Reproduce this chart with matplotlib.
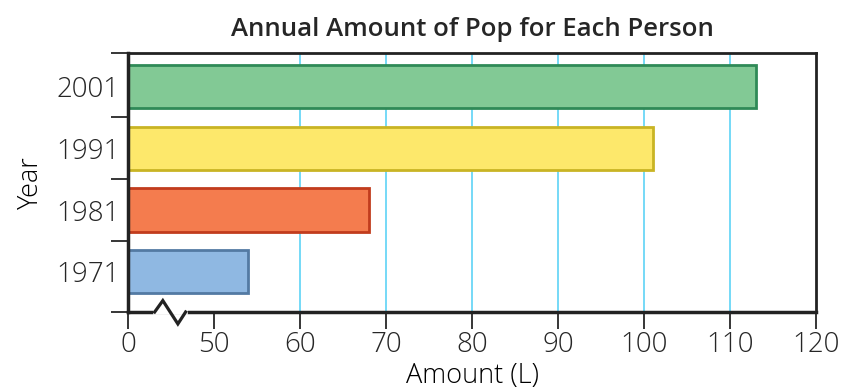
import matplotlib
matplotlib.use("Agg")
import matplotlib.pyplot as plt
import matplotlib.transforms as mtransforms

#### data
years = ["1971", "1981", "1991", "2001"]
amounts = [54, 68, 101, 113]
fills = ["#8fb8e2", "#f47c4e", "#fde86b", "#82c995"]
edges = ["#537aa3", "#c13c1d", "#c9b424", "#2f8a57"]
xticks = [0, 50, 60, 70, 80, 90, 100, 110, 120]

# the axis is broken between 0 and 50: 0 is drawn where 40 would be
BREAK = 40

def to_axis(v):
    return BREAK if v == 0 else v

plt.rcParams['font.family'] = ['Open Sans', 'DejaVu Sans']
plt.rcParams['text.color'] = '#262626'
plt.rcParams['xtick.color'] = '#262626'
plt.rcParams['ytick.color'] = '#262626'

fig = plt.figure(figsize=(8.47, 3.9), dpi=100)
ax = fig.add_axes([128/847, 1-312/390, (816-128)/847, (312-53)/390])

ypos = list(range(len(years)))
ax.barh(ypos, [a - BREAK for a in amounts], left=BREAK, height=0.7,
        color=fills, edgecolor=edges, linewidth=2, zorder=3)

# light blue grid
for t in xticks[2:-1]:
    ax.axvline(t, color='#4fcff5', lw=1.1, zorder=1)

ax.set_xlim(BREAK, 120)
ax.set_ylim(-0.65, 3.54)
ax.set_xticks([to_axis(t) for t in xticks])
ax.set_xticklabels([str(t) for t in xticks], fontsize=20, fontweight='light')
ax.set_yticks(ypos)
ax.set_yticklabels(years, fontsize=20, fontweight='light')
ax.tick_params(axis='y', which='major', length=0, pad=6)
ax.set_yticks([-0.65, 0.5, 1.5, 2.5, 3.54], minor=True)
ax.tick_params(axis='y', which='minor', length=12, width=1.3, color='#262626')
ax.tick_params(axis='x', length=12, width=1.3, pad=2, direction='out')

for s in ax.spines.values():
    s.set_linewidth(2.5)
    s.set_color('#222222')
    s.set_zorder(4)
ax.spines['right'].set_linewidth(2)
ax.spines['top'].set_linewidth(2)

# zigzag for the axis break
tr = mtransforms.blended_transform_factory(ax.transData, ax.transAxes)
ax.plot([43.2, 46.6], [0, 0], color='white', lw=4, transform=tr,
        clip_on=False, zorder=5)
ax.plot([43.1, 44.05, 45.8, 46.7], [0, 0.044, -0.046, 0], color='#222222',
        lw=2.3, transform=tr, clip_on=False, zorder=6, solid_joinstyle='miter')

ax.set_title('Annual Amount of Pop for Each Person', fontsize=18.5,
             fontweight='semibold', pad=12)
ax.set_xlabel('Amount (L)', fontsize=19.5, fontweight='light', labelpad=2)
ax.set_ylabel('Year', fontsize=19.5, fontweight='light', labelpad=8)

fig.savefig('out.png', dpi=100)
